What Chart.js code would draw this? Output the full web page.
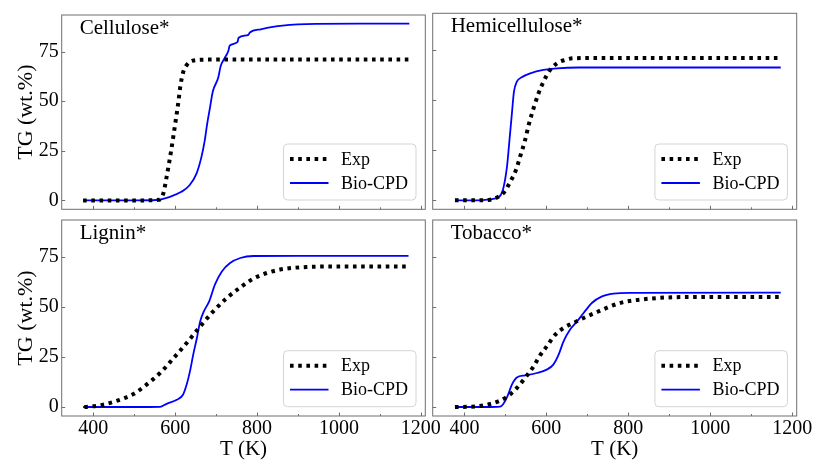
<!DOCTYPE html>
<html>
<head>
<meta charset="utf-8">
<script src="https://cdn.jsdelivr.net/npm/chart.js@4.4.0/dist/chart.umd.min.js"></script>
<style>
  html, body { margin:0; padding:0; background:#fff; }
  #wrap { position:relative; width:815px; height:460px; }
  #wrap canvas { position:absolute; left:0; top:0; }
</style>
</head>
<body>
<div id="wrap">
  <canvas id="c1" width="815" height="460"></canvas>
  <canvas id="c2" width="815" height="460"></canvas>
  <canvas id="c3" width="815" height="460"></canvas>
  <canvas id="c4" width="815" height="460"></canvas>
</div>
<script>
// ---- data (T in K, TG in wt.%) ----
const seriesNames = ["Exp", "Bio-CPD"];
const panelTitles = ["Cellulose*", "Hemicellulose*", "Lignin*", "Tobacco*"];
const xTicks = [400, 600, 800, 1000, 1200];
const xMinorTicks = [500, 700, 900, 1100];
const yTicks = [0, 25, 50, 75];

const celExpT  = [375, 450, 520, 561, 571, 579, 590, 600, 608, 612, 619, 629, 645, 680, 800, 1000, 1172];
const celExpTG = [0, 0, 0, 0.3, 3.5, 11.8, 25, 38.6, 50, 56.8, 64.3, 68.5, 70.6, 71, 71, 71, 71];
const celCpdT  = [375, 500, 554, 587, 615, 635, 652, 664, 672, 678, 685, 692, 705, 711, 721, 730, 733, 752, 755, 779, 782, 809, 862, 944, 1050, 1172];
const celCpdTG = [0, 0, 0.2, 1.8, 4.3, 7.6, 13.5, 21.8, 30, 38.5, 46.8, 55, 61.8, 67.6, 71.8, 75.5, 78, 79.8, 82, 83.5, 84.6, 86.3, 88.1, 89, 89.1, 89.1];

const hemExpT  = [377, 430, 463, 483, 498, 512, 526, 536, 548, 558, 570, 581, 593, 608, 626, 646, 666, 750, 1172];
const hemExpTG = [0, 0, 0.3, 1.8, 4.3, 9.3, 15.2, 21.8, 30, 38.5, 46.8, 53.5, 59.3, 64.8, 68.5, 70.2, 71, 71.2, 71.2];
const hemCpdT  = [377, 430, 463, 483, 494, 504, 510, 516, 521, 528, 540, 561, 593, 626, 680, 1172];
const hemCpdTG = [0, 0, 0.5, 1.5, 5.2, 16.8, 30, 43.5, 54.3, 59.3, 61.5, 63.5, 65.2, 66, 66.4, 66.4];

const ligExpT  = [378, 416, 453, 498, 530, 563, 595, 628, 661, 693, 726, 759, 791, 824, 864, 921, 1000, 1170];
const ligExpTG = [0, 0.8, 2.8, 6.5, 11.2, 17, 24.2, 32, 40.3, 47.8, 54.5, 59.8, 64.2, 67, 69, 70, 70.3, 70.3];
const ligCpdT  = [375, 500, 563, 579, 604, 619, 628, 636, 644, 653, 661, 670, 683, 697, 714, 734, 759, 791, 900, 1170];
const ligCpdTG = [0, 0, 0.1, 1.6, 3.6, 6.1, 11.2, 17.8, 26.2, 34.5, 42.8, 47.8, 52.8, 61.2, 67.8, 72, 74.5, 75.5, 75.6, 75.6];

const tobExpT  = [377, 430, 463, 487, 505, 528, 548, 569, 583, 601, 622, 642, 666, 691, 724, 756, 789, 830, 887, 960, 1172];
const tobExpTG = [0, 0.3, 1.5, 3.2, 5.3, 9.5, 14.5, 20.3, 25.3, 30.3, 36.2, 39.5, 42, 44.5, 47.5, 50.3, 52.5, 53.7, 54.7, 55, 55];
const tobCpdT  = [377, 450, 487, 495, 505, 516, 528, 548, 577, 601, 617, 630, 642, 658, 675, 691, 711, 736, 764, 805, 1172];
const tobCpdTG = [0, 0, 0.2, 1.5, 5.3, 11.2, 14.8, 15.8, 17, 18.7, 21.2, 26.2, 32.8, 38.7, 42.8, 47, 52, 55.3, 56.7, 57.1, 57.2];

const SERIF = '"Liberation Serif", "DejaVu Serif", serif';
const AXIS_GRAY = '#6f6f6f';

function pts(xs, ys){ return xs.map((v, i) => ({x: v, y: ys[i]})); }

// frame, inward ticks, panel title and legend (matplotlib look)
const panelDeco = {
  id: 'panelDeco',
  afterDatasetsDraw(chart, args, opts){
    const {ctx, chartArea: a, scales: {x, y}} = chart;
    ctx.save();
    ctx.strokeStyle = AXIS_GRAY;
    ctx.lineWidth = 1;
    ctx.beginPath();
    xTicks.forEach(v => { const p = Math.round(x.getPixelForValue(v)) + 0.5; ctx.moveTo(p, a.bottom); ctx.lineTo(p, a.bottom - 3.5); });
    xMinorTicks.forEach(v => { const p = Math.round(x.getPixelForValue(v)) + 0.5; ctx.moveTo(p, a.bottom); ctx.lineTo(p, a.bottom - 2); });
    yTicks.forEach(v => { const p = Math.round(y.getPixelForValue(v)) + 0.5; ctx.moveTo(a.left, p); ctx.lineTo(a.left + 3.5, p); });
    ctx.stroke();
    ctx.strokeRect(a.left, a.top, a.right - a.left, a.bottom - a.top);

    // title
    ctx.fillStyle = '#000';
    ctx.font = '21px ' + SERIF;
    ctx.textBaseline = 'middle';
    ctx.textAlign = 'left';
    ctx.fillText(opts.title, a.left + 18, a.top + 13);

    // legend
    const w = 132.5, h = 56;
    const lx = a.right - 9.3 - w, ly = a.bottom - 9.3 - h;
    ctx.beginPath();
    ctx.roundRect(lx, ly, w, h, 4);
    ctx.fillStyle = 'rgba(255,255,255,0.85)';
    ctx.fill();
    ctx.strokeStyle = '#d4d4d4';
    ctx.stroke();
    chart.data.datasets.forEach((ds, i) => {
      const ry = ly + 15 + i * 24;
      ctx.beginPath();
      ctx.strokeStyle = ds.borderColor;
      ctx.lineWidth = ds.borderWidth;
      ctx.lineCap = 'butt';
      ctx.setLineDash(ds.borderDash || []);
      ctx.moveTo(lx + 6.5, ry);
      ctx.lineTo(lx + 45, ry);
      ctx.stroke();
      ctx.setLineDash([]);
      ctx.fillStyle = '#000';
      ctx.font = '18px ' + SERIF;
      ctx.fillText(ds.label, lx + 57.5, ry + 1);
    });
    ctx.restore();
  }
};

function makePanel(id, title, expT, expTG, cpdT, cpdTG, col, row){
  const left = col === 0 ? 61.7 : 432.7;
  const right = col === 0 ? 425.3 : 796.7;
  const top = row === 0 ? 13.3 : 220;
  const bottom = row === 0 ? 209.3 : 416;
  const yW = col === 0 ? 61.7 : 2;
  const xH = 44;
  return new Chart(document.getElementById(id), {
    type: 'scatter',
    data: {
      datasets: [
        {label: seriesNames[0], data: pts(expT, expTG), showLine: true, borderColor: '#000', borderWidth: 4,
         borderDash: [3.6, 4.6], borderCapStyle: 'butt', pointRadius: 0, cubicInterpolationMode: 'monotone'},
        {label: seriesNames[1], data: pts(cpdT, cpdTG), showLine: true, borderColor: '#0000ff', borderWidth: 1.8,
         pointRadius: 0, cubicInterpolationMode: 'monotone'}
      ]
    },
    options: {
      responsive: false,
      animation: false,
      devicePixelRatio: 1,
      layout: {padding: {left: col === 0 ? 0 : left - yW, right: 815 - right, top: top, bottom: 460 - bottom - xH}},
      plugins: {legend: {display: false}, tooltip: {enabled: false}, panelDeco: {title: title}},
      scales: {
        x: {
          type: 'linear', min: 322.7, max: 1211,
          grid: {display: false, drawTicks: false}, border: {display: false},
          afterBuildTicks: s => { s.ticks = xTicks.map(v => ({value: v})); },
          afterFit: s => { s.height = xH; },
          ticks: {display: row === 1, color: '#000', padding: 1, maxRotation: 0, font: {family: SERIF, size: 20},
                  callback: v => String(v)},
          title: {display: row === 1, text: 'T (K)', color: '#000', padding: {top: 0, bottom: -2}, font: {family: SERIF, size: 21}}
        },
        y: {
          type: 'linear', min: -4.5, max: 93.5,
          grid: {display: false, drawTicks: false}, border: {display: false},
          afterBuildTicks: s => { s.ticks = yTicks.map(v => ({value: v})); },
          afterFit: s => { s.width = yW; },
          ticks: {display: col === 0, color: '#000', padding: 3, font: {family: SERIF, size: 20},
                  callback: v => String(v)},
          title: {display: col === 0, text: 'TG (wt.%)', color: '#000', padding: {top: 13, bottom: 0}, font: {family: SERIF, size: 22}}
        }
      }
    },
    plugins: [panelDeco]
  });
}

makePanel('c1', panelTitles[0], celExpT, celExpTG, celCpdT, celCpdTG, 0, 0);
makePanel('c2', panelTitles[1], hemExpT, hemExpTG, hemCpdT, hemCpdTG, 1, 0);
makePanel('c3', panelTitles[2], ligExpT, ligExpTG, ligCpdT, ligCpdTG, 0, 1);
makePanel('c4', panelTitles[3], tobExpT, tobExpTG, tobCpdT, tobCpdTG, 1, 1);
</script>
</body>
</html>
